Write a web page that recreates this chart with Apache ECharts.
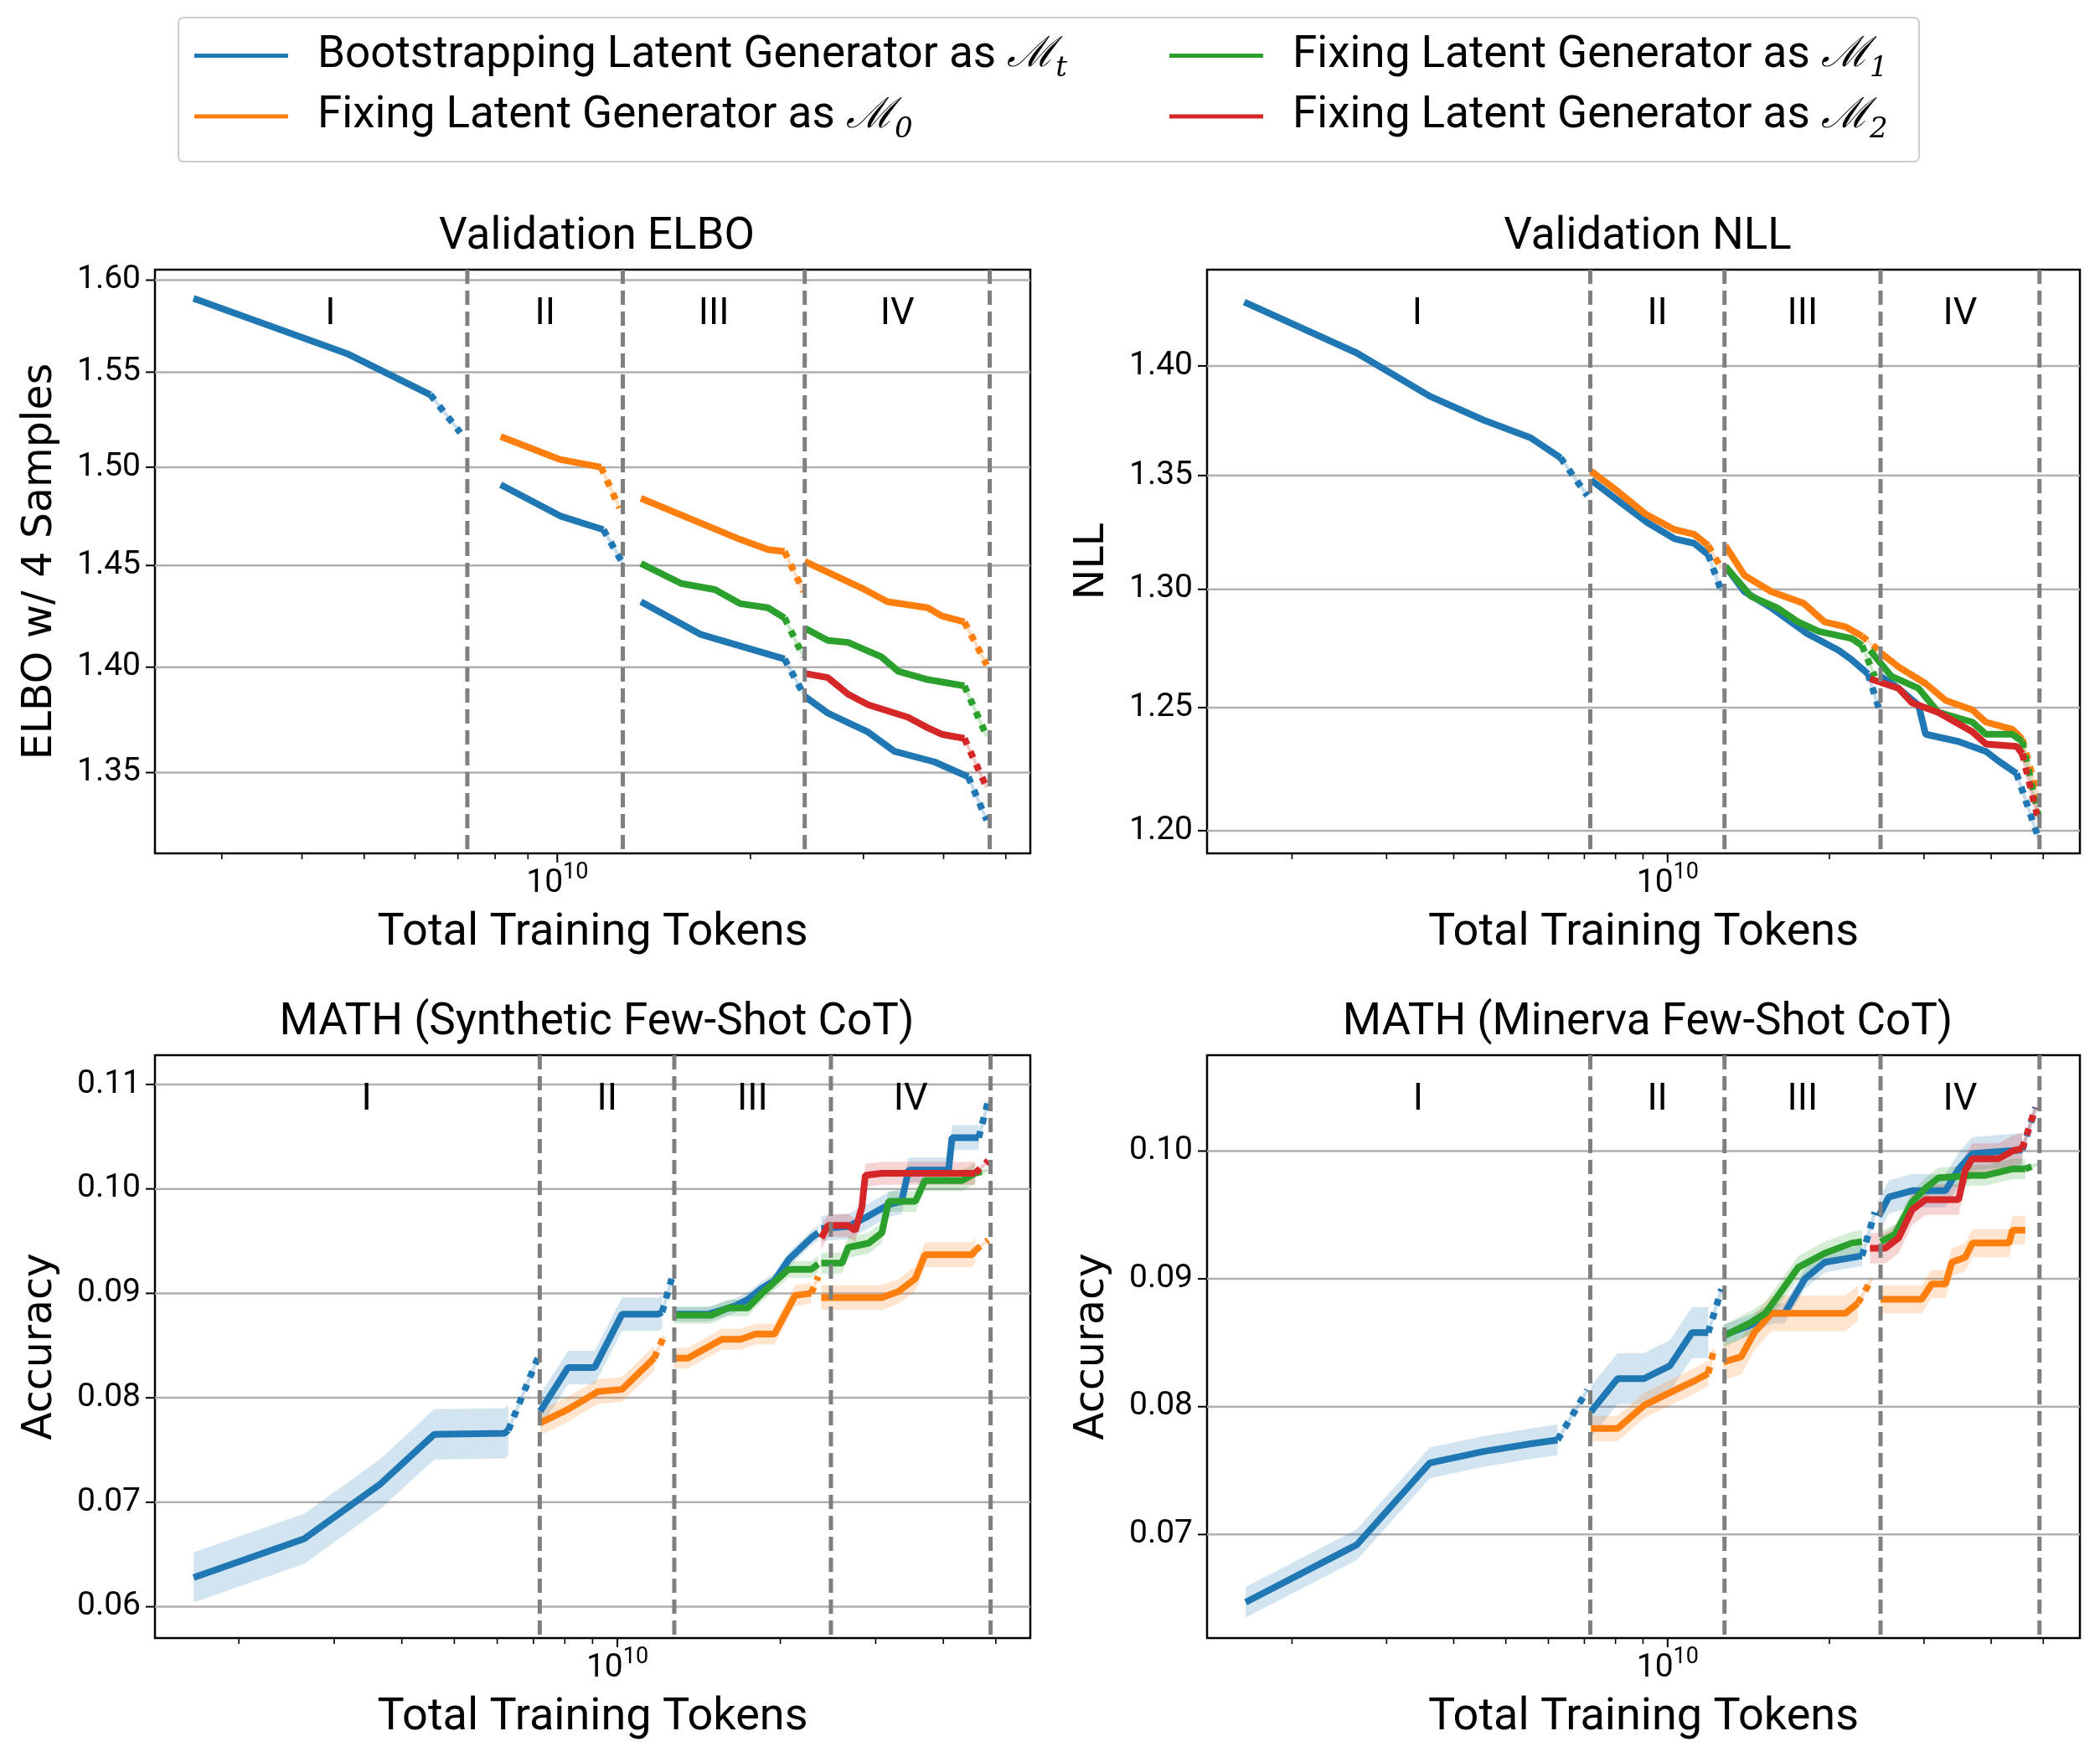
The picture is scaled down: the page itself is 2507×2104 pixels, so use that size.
<!DOCTYPE html>
<html><head><meta charset="utf-8">
<script src="https://cdn.jsdelivr.net/npm/echarts@6/dist/echarts.min.js"></script>
<style>html,body{margin:0;padding:0;background:#fff}#c{width:2507px;height:2104px}</style>
</head><body><div id="c"></div>
<script>
// ---------------- DATA ----------------
const xMinorTicks = [2e9,3e9,4e9,5e9,6e9,7e9,8e9,9e9,2e10,3e10,4e10,5e10];
const xMajorTicks = [1e10];
const romanLabels = ['I','II','III','IV'];

const elboTicks = [1.35,1.40,1.45,1.50,1.55,1.60];
const nllTicks = [1.20,1.25,1.30,1.35,1.40];
const synTicks = [0.06,0.07,0.08,0.09,0.10,0.11];
const minTicks = [0.07,0.08,0.09,0.10];

const elboBounds = [7.24e9,1.265e10,2.43e10,4.72e10];
const nllBounds = [7.18e9,1.276e10,2.49e10,4.92e10];
const synBounds = [7.19e9,1.274e10,2.48e10,4.89e10];
const minBounds = [7.18e9,1.276e10,2.49e10,4.92e10];

// ELBO
const elboBlueSolid = [
 [[2.71e9,1.590],[4.70e9,1.560],[6.34e9,1.538]],
 [[8.16e9,1.491],[1.01e10,1.475],[1.18e10,1.468]],
 [[1.35e10,1.432],[1.67e10,1.416],[2.26e10,1.404]],
 [[2.43e10,1.386],[2.64e10,1.378],[3.05e10,1.369],[3.35e10,1.360],[3.87e10,1.355],[4.37e10,1.348]]];
const elboBlueDotted = [[[6.34e9,1.538],[7.06e9,1.518]],[[1.18e10,1.468],[1.265e10,1.451]],[[2.26e10,1.404],[2.43e10,1.386]],[[4.37e10,1.348],[4.67e10,1.328]]];
const elboOrangeSolid = [
 [[8.16e9,1.516],[1.01e10,1.504],[1.17e10,1.500]],
 [[1.35e10,1.484],[1.93e10,1.463],[2.13e10,1.458],[2.26e10,1.457]],
 [[2.43e10,1.452],[2.97e10,1.439],[3.27e10,1.432],[3.78e10,1.429],[3.97e10,1.425],[4.31e10,1.422]]];
const elboOrangeDotted = [[[1.17e10,1.500],[1.25e10,1.479]],[[2.26e10,1.457],[2.42e10,1.437]],[[4.31e10,1.422],[4.67e10,1.401]]];
const elboGreenSolid = [
 [[1.35e10,1.451],[1.56e10,1.441],[1.76e10,1.438],[1.93e10,1.431],[2.13e10,1.429],[2.26e10,1.424]],
 [[2.43e10,1.419],[2.64e10,1.413],[2.84e10,1.412],[3.20e10,1.405],[3.40e10,1.398],[3.78e10,1.394],[4.31e10,1.391]]];
const elboGreenDotted = [[[2.26e10,1.424],[2.42e10,1.405]],[[4.31e10,1.391],[4.67e10,1.367]]];
const elboRedSolid = [[[2.43e10,1.397],[2.64e10,1.395],[2.84e10,1.387],[3.05e10,1.382],[3.52e10,1.376],[3.78e10,1.371],[3.97e10,1.368],[4.31e10,1.366]]];
const elboRedDotted = [[[4.31e10,1.366],[4.67e10,1.343]]];

// NLL
const nllBlueSolid = [
 [[1.63e9,1.430],[2.64e9,1.406],[3.61e9,1.386],[4.55e9,1.375],[5.56e9,1.367],[6.32e9,1.358]],
 [[7.20e9,1.348],[8.07e9,1.339],[9.18e9,1.329],[1.03e10,1.322],[1.12e10,1.320],[1.19e10,1.315]],
 [[1.28e10,1.310],[1.39e10,1.299],[1.56e10,1.292],[1.82e10,1.281],[2.08e10,1.274],[2.20e10,1.270],[2.36e10,1.264]],
 [[2.49e10,1.263],[2.69e10,1.258],[2.93e10,1.251],[3.02e10,1.239],[3.48e10,1.236],[3.91e10,1.232],[4.13e10,1.228],[4.46e10,1.223]]];
const nllBlueDotted = [[[6.32e9,1.358],[7.09e9,1.341]],[[1.19e10,1.315],[1.26e10,1.299]],[[2.36e10,1.264],[2.47e10,1.250]],[[4.46e10,1.223],[4.90e10,1.197]]];
const nllOrangeSolid = [
 [[7.20e9,1.352],[8.07e9,1.343],[9.08e9,1.333],[1.03e10,1.326],[1.12e10,1.324],[1.19e10,1.319]],
 [[1.28e10,1.319],[1.39e10,1.306],[1.56e10,1.299],[1.79e10,1.294],[1.96e10,1.286],[2.14e10,1.284],[2.30e10,1.280]],
 [[2.49e10,1.273],[2.69e10,1.267],[3.02e10,1.260],[3.29e10,1.253],[3.69e10,1.249],[3.91e10,1.244],[4.38e10,1.241],[4.57e10,1.237]]];
const nllOrangeDotted = [[[1.19e10,1.319],[1.26e10,1.309]],[[2.30e10,1.280],[2.47e10,1.274]],[[4.57e10,1.237],[4.90e10,1.213]]];
const nllGreenSolid = [
 [[1.28e10,1.310],[1.43e10,1.297],[1.60e10,1.292],[1.75e10,1.286],[1.91e10,1.282],[2.20e10,1.279],[2.30e10,1.276]],
 [[2.38e10,1.274],[2.61e10,1.263],[2.93e10,1.258],[3.19e10,1.248],[3.69e10,1.244],[3.91e10,1.239],[4.38e10,1.239],[4.57e10,1.236]]];
const nllGreenDotted = [[[2.30e10,1.276],[2.43e10,1.263]],[[4.57e10,1.236],[4.90e10,1.206]]];
const nllRedSolid = [[[2.38e10,1.262],[2.69e10,1.258],[2.85e10,1.252],[3.19e10,1.248],[3.69e10,1.240],[3.91e10,1.235],[4.46e10,1.234],[4.57e10,1.231]]];
const nllRedDotted = [[[4.57e10,1.231],[4.90e10,1.204]]];

// MATH synthetic
const synBlueSolid = [
 [[1.65e9,0.0628],[2.64e9,0.0665],[3.66e9,0.0718],[4.59e9,0.0765],[6.19e9,0.0766],[6.29e9,0.0769]],
 [[7.20e9,0.0787],[8.11e9,0.0829],[9.08e9,0.0829],[1.02e10,0.0880],[1.19e10,0.0880],[1.21e10,0.0882]],
 [[1.27e10,0.0880],[1.47e10,0.0880],[1.56e10,0.0884],[1.65e10,0.0888],[1.74e10,0.0894],[1.85e10,0.0905],[1.95e10,0.0912],[2.07e10,0.0932],[2.28e10,0.0953],[2.35e10,0.0958]],
 [[2.38e10,0.0962],[2.67e10,0.0964],[2.91e10,0.0974],[3.17e10,0.0985],[3.35e10,0.0988],[3.45e10,0.1018],[4.09e10,0.1018],[4.15e10,0.1049],[4.65e10,0.1049]]];
const synBlueDotted = [[[6.29e9,0.0769],[7.13e9,0.0838]],[[1.21e10,0.0882],[1.26e10,0.0914]],[[4.65e10,0.1049],[4.84e10,0.1084]]];
const synBlueBand = [0.0024,0.0016,0.0007,0.0012];
const synOrangeSolid = [
 [[7.20e9,0.0776],[8.11e9,0.0789],[9.21e9,0.0806],[1.02e10,0.0808],[1.17e10,0.0838]],
 [[1.27e10,0.0838],[1.35e10,0.0838],[1.56e10,0.0856],[1.69e10,0.0856],[1.80e10,0.0861],[1.95e10,0.0861],[2.13e10,0.0898],[2.28e10,0.0900]],
 [[2.38e10,0.0896],[2.67e10,0.0896],[3.08e10,0.0896],[3.31e10,0.0902],[3.55e10,0.0914],[3.70e10,0.0937],[4.52e10,0.0937],[4.58e10,0.0941]]];
const synOrangeDotted = [[[1.17e10,0.0838],[1.22e10,0.0859]],[[2.28e10,0.0900],[2.35e10,0.0916]],[[4.58e10,0.0941],[4.84e10,0.0951]]];
const synOrangeBand = [0.0012,0.0010,0.0012];
const synGreenSolid = [
 [[1.27e10,0.0879],[1.49e10,0.0879],[1.60e10,0.0886],[1.74e10,0.0886],[1.85e10,0.0900],[2.07e10,0.0923],[2.28e10,0.0923],[2.35e10,0.0928]],
 [[2.38e10,0.0929],[2.60e10,0.0929],[2.67e10,0.0944],[2.91e10,0.0948],[3.08e10,0.0958],[3.17e10,0.0988],[3.55e10,0.0988],[3.70e10,0.1008],[4.33e10,0.1008],[4.58e10,0.1015]]];
const synGreenDotted = [[[4.58e10,0.1015],[4.84e10,0.1018]]];
const synGreenBand = [0.0008,0.0010];
const synRedSolid = [[[2.38e10,0.0953],[2.45e10,0.0965],[2.67e10,0.0965],[2.75e10,0.0960],[2.83e10,0.0983],[2.87e10,0.1013],[3.08e10,0.1015],[4.58e10,0.1015]]];
const synRedDotted = [[[4.58e10,0.1015],[4.84e10,0.1027]]];
const synRedBand = [0.0011];

// MATH minerva
const minBlueSolid = [
 [[1.64e9,0.0647],[2.64e9,0.0692],[3.61e9,0.0756],[4.55e9,0.0765],[5.56e9,0.0771],[6.24e9,0.0774]],
 [[7.20e9,0.0796],[8.07e9,0.0822],[9.04e9,0.0822],[1.01e10,0.0832],[1.11e10,0.0858],[1.19e10,0.0858]],
 [[1.27e10,0.0856],[1.43e10,0.0864],[1.56e10,0.0873],[1.65e10,0.0873],[1.80e10,0.0900],[1.96e10,0.0913],[2.30e10,0.0918]],
 [[2.47e10,0.0949],[2.58e10,0.0964],[2.85e10,0.0969],[3.29e10,0.0969],[3.48e10,0.0986],[3.69e10,0.0998],[4.57e10,0.1001]]];
const minBlueDotted = [[[6.24e9,0.0774],[7.09e9,0.0813]],[[1.19e10,0.0858],[1.26e10,0.0892]],[[2.30e10,0.0918],[2.43e10,0.0952]],[[4.57e10,0.1001],[4.84e10,0.1034]]];
const minBlueBand = [0.0012,0.0020,0.0008,0.0013];
const minOrangeSolid = [
 [[7.20e9,0.0783],[8.07e9,0.0783],[9.04e9,0.0801],[1.01e10,0.0811],[1.12e10,0.0820],[1.19e10,0.0826]],
 [[1.27e10,0.0835],[1.37e10,0.0839],[1.45e10,0.0858],[1.56e10,0.0873],[2.14e10,0.0873],[2.26e10,0.0881]],
 [[2.49e10,0.0884],[2.97e10,0.0884],[3.10e10,0.0896],[3.29e10,0.0896],[3.38e10,0.0913],[3.58e10,0.0917],[3.69e10,0.0928],[4.32e10,0.0928],[4.38e10,0.0938],[4.63e10,0.0938]]];
const minOrangeDotted = [[[1.19e10,0.0826],[1.22e10,0.0845]],[[2.26e10,0.0881],[2.40e10,0.0900]]];
const minOrangeBand = [0.0010,0.0014,0.0011];
const minGreenSolid = [
 [[1.27e10,0.0855],[1.43e10,0.0866],[1.52e10,0.0873],[1.60e10,0.0886],[1.75e10,0.0909],[1.96e10,0.0920],[2.20e10,0.0928],[2.30e10,0.0929]],
 [[2.49e10,0.0929],[2.65e10,0.0935],[2.85e10,0.0960],[3.02e10,0.0971],[3.19e10,0.0979],[3.69e10,0.0981],[3.91e10,0.0981],[4.38e10,0.0986],[4.63e10,0.0986]]];
const minGreenDotted = [[[4.63e10,0.0986],[4.90e10,0.0990]]];
const minGreenBand = [0.0009,0.0008];
const minRedSolid = [[[2.38e10,0.0924],[2.54e10,0.0924],[2.69e10,0.0932],[2.85e10,0.0954],[3.02e10,0.0962],[3.48e10,0.0962],[3.58e10,0.0985],[3.69e10,0.0994],[4.13e10,0.0994],[4.38e10,0.1000],[4.57e10,0.1002]]];
const minRedDotted = [[[4.57e10,0.1002],[4.84e10,0.1034]]];
const minRedBand = [0.0012];

// ---------------- CHART ----------------
const COL = {Mt:'#1f77b4', M0:'#ff7f0e', M1:'#2ca02c', M2:'#d62728'};
const FONT = 'Roboto';
const LW = 8;
const panels = [
 {title:'Validation ELBO', yName:'ELBO w/ 4 Samples', grid:{left:185,top:322,width:1045,height:697}, xMin:2.36e9, xMax:5.46e10, yType:'log', yMin:1.3129, yMax:1.6058, yTicks:elboTicks, bounds:elboBounds, start:2.71e9,
  lines:[['Mt',elboBlueSolid,elboBlueDotted,null],['M0',elboOrangeSolid,elboOrangeDotted,null],['M1',elboGreenSolid,elboGreenDotted,null],['M2',elboRedSolid,elboRedDotted,null]]},
 {title:'Validation NLL', yName:'NLL', grid:{left:1441,top:322,width:1042,height:697}, xMin:1.39e9, xMax:5.85e10, yType:'log', yMin:1.191, yMax:1.4454, yTicks:nllTicks, bounds:nllBounds, start:1.63e9,
  lines:[['Mt',nllBlueSolid,nllBlueDotted,null],['M0',nllOrangeSolid,nllOrangeDotted,null],['M1',nllGreenSolid,nllGreenDotted,null],['M2',nllRedSolid,nllRedDotted,null]]},
 {title:'MATH (Synthetic Few-Shot CoT)', yName:'Accuracy', grid:{left:185,top:1260,width:1045,height:696}, xMin:1.40e9, xMax:5.79e10, yType:'value', yMin:0.0570, yMax:0.1128, yTicks:synTicks, bounds:synBounds, start:1.65e9,
  lines:[['Mt',synBlueSolid,synBlueDotted,synBlueBand],['M0',synOrangeSolid,synOrangeDotted,synOrangeBand],['M1',synGreenSolid,synGreenDotted,synGreenBand],['M2',synRedSolid,synRedDotted,synRedBand]]},
 {title:'MATH (Minerva Few-Shot CoT)', yName:'Accuracy', grid:{left:1441,top:1260,width:1042,height:696}, xMin:1.39e9, xMax:5.85e10, yType:'value', yMin:0.0619, yMax:0.1075, yTicks:minTicks, bounds:minBounds, start:1.64e9,
  lines:[['Mt',minBlueSolid,minBlueDotted,minBlueBand],['M0',minOrangeSolid,minOrangeDotted,minOrangeBand],['M1',minGreenSolid,minGreenDotted,minGreenBand],['M2',minRedSolid,minRedDotted,minRedBand]]}
];

const grids=[], xAxes=[], yAxes=[], titles=[], series=[];
panels.forEach((P,i)=>{
  grids.push(Object.assign({show:true,borderColor:'#000',borderWidth:2.5,backgroundColor:'transparent'},P.grid));
  xAxes.push({type:'log',logBase:10,gridIndex:i,min:P.xMin,max:P.xMax,axisLine:{show:false},axisTick:{show:false},axisLabel:{show:false},splitLine:{show:false},
    name:'Total Training Tokens',nameLocation:'middle',nameGap:68,nameTextStyle:{fontFamily:FONT,fontSize:54,color:'#000',verticalAlign:'top'}});
  yAxes.push({type:P.yType,logBase:10,gridIndex:i,min:P.yMin,max:P.yMax,axisLine:{show:false},axisTick:{show:false},axisLabel:{show:false},splitLine:{show:false},
    name:P.yName,nameLocation:'middle',nameGap:112,nameRotate:90,nameTextStyle:{fontFamily:'DejaVu Sans',fontSize:49,color:'#000'}});
  titles.push({text:P.title,left:P.grid.left+P.grid.width/2,textAlign:'center',top:P.grid.top-70,textStyle:{fontFamily:FONT,fontSize:53,fontWeight:'normal',color:'#000'}});

  series.push({type:'custom',xAxisIndex:i,yAxisIndex:i,z:1,silent:true,data:[[P.xMin,P.yMin]],
    renderItem:(params,api)=>{
      const cs=params.coordSys, ch=[];
      const bottom=cs.y+cs.height;
      P.yTicks.forEach(v=>{
        const py=api.coord([P.xMin,v])[1];
        ch.push({type:'line',shape:{x1:cs.x,y1:py,x2:cs.x+cs.width,y2:py},style:{stroke:'#b0b0b0',lineWidth:2.5}});
        ch.push({type:'line',shape:{x1:cs.x-11,y1:py,x2:cs.x,y2:py},style:{stroke:'#000',lineWidth:2}});
        ch.push({type:'text',x:cs.x-17,y:py,style:{text:v.toFixed(2),fontFamily:FONT,fontSize:39,fill:'#000',align:'right',verticalAlign:'middle'}});
      });
      xMinorTicks.forEach(v=>{
        if(v<P.xMin||v>P.xMax) return;
        const px=api.coord([v,P.yMin])[0];
        ch.push({type:'line',shape:{x1:px,y1:bottom,x2:px,y2:bottom+7},style:{stroke:'#000',lineWidth:1.6}});
      });
      xMajorTicks.forEach(v=>{
        const px=api.coord([v,P.yMin])[0];
        ch.push({type:'line',shape:{x1:px,y1:bottom,x2:px,y2:bottom+11},style:{stroke:'#000',lineWidth:2}});
        ch.push({type:'text',x:px,y:bottom+10,style:{text:'{b|10}{s|'+Math.round(Math.log10(v))+'}',align:'center',verticalAlign:'top',
          rich:{b:{fontFamily:FONT,fontSize:39,lineHeight:52,fill:'#000'},s:{fontFamily:FONT,fontSize:27,lineHeight:26,verticalAlign:'top',fill:'#000'}}}});
      });
      return {type:'group',children:ch};
    }});

  P.lines.forEach(([key,solid,dotted,band])=>{
    const c=COL[key];
    if(band){
      solid.forEach((seg,k)=>{
        const h=band[k];
        series.push({type:'custom',xAxisIndex:i,yAxisIndex:i,z:2,silent:true,data:seg,
          renderItem:(params,api)=>{
            if(params.dataIndex!==0) return;
            const up=seg.map(p=>api.coord([p[0],p[1]+h]));
            const lo=seg.map(p=>api.coord([p[0],p[1]-h])).reverse();
            return {type:'polygon',shape:{points:up.concat(lo)},style:{fill:c,opacity:0.2}};
          }});
      });
    }
    solid.forEach(seg=>series.push({type:'line',name:key,xAxisIndex:i,yAxisIndex:i,z:3,data:seg,showSymbol:false,symbol:'none',
      lineStyle:{color:c,width:LW},itemStyle:{color:c},animation:false}));
    dotted.forEach(seg=>{
      series.push({type:'line',name:key,xAxisIndex:i,yAxisIndex:i,z:3,data:seg,showSymbol:false,symbol:'none',
        lineStyle:{color:c,width:4,opacity:0.25},itemStyle:{color:c},animation:false});
      series.push({type:'line',name:key,xAxisIndex:i,yAxisIndex:i,z:3,data:seg,showSymbol:false,symbol:'none',
        lineStyle:{color:c,width:LW,type:[8,9]},itemStyle:{color:c},animation:false});
    });
  });

  series.push({type:'custom',xAxisIndex:i,yAxisIndex:i,z:5,silent:true,data:[[P.xMin,P.yMin]],
    renderItem:(params,api)=>{
      const cs=params.coordSys, ch=[];
      P.bounds.forEach(b=>{
        const px=api.coord([b,P.yMin])[0];
        ch.push({type:'line',shape:{x1:px,y1:cs.y,x2:px,y2:cs.y+cs.height},style:{stroke:'#7f7f7f',lineWidth:5,lineDash:[17,8]}});
      });
      const edges=[P.start].concat(P.bounds);
      romanLabels.forEach((r,k)=>{
        const mid=Math.sqrt(edges[k]*edges[k+1]);
        const px=api.coord([mid,P.yMin])[0];
        ch.push({type:'text',x:px,y:cs.y+54,style:{text:r,fontFamily:FONT,fontSize:45,fill:'#000',align:'center',verticalAlign:'middle'}});
      });
      return {type:'group',children:ch};
    }});
});

const legendNames = {Mt:['Bootstrapping Latent Generator as ','t'], M0:['Fixing Latent Generator as ','0'], M1:['Fixing Latent Generator as ','1'], M2:['Fixing Latent Generator as ','2']};
const legendRich = {
  t:{fontFamily:FONT,fontSize:53,lineHeight:66,verticalAlign:'middle',color:'#000'},
  m:{fontFamily:'DejaVu Serif',fontStyle:'italic',fontSize:50,lineHeight:66,verticalAlign:'middle',color:'#000'},
  s:{fontFamily:'DejaVu Serif',fontStyle:'italic',fontSize:34,lineHeight:34,verticalAlign:'bottom',color:'#000'}
};
function legendFmt(n){const L=legendNames[n];return '{t|'+L[0]+'}{m|ℳ}{s|'+L[1]+'}';}
function mkLegend(data,left){
  return {data:data,left:left,top:40,orient:'vertical',padding:0,itemGap:13,itemWidth:112,itemHeight:5,
    icon:'rect',formatter:legendFmt,selectedMode:false,
    textStyle:{padding:[0,0,0,30],rich:legendRich}};
}

const chart = echarts.init(document.getElementById('c'),null,{renderer:'canvas',width:2507,height:2104});
chart.setOption({
  backgroundColor:'#fff', animation:false,
  title:titles, grid:grids, xAxis:xAxes, yAxis:yAxes, series:series,
  legend:[mkLegend(['Mt','M0'],232), mkLegend(['M1','M2'],1396)],
  graphic:[{type:'rect',shape:{x:213,y:21,width:2078,height:172,r:6},style:{fill:'none',stroke:'#cccccc',lineWidth:2},z:-1}]
});
</script></body></html>
